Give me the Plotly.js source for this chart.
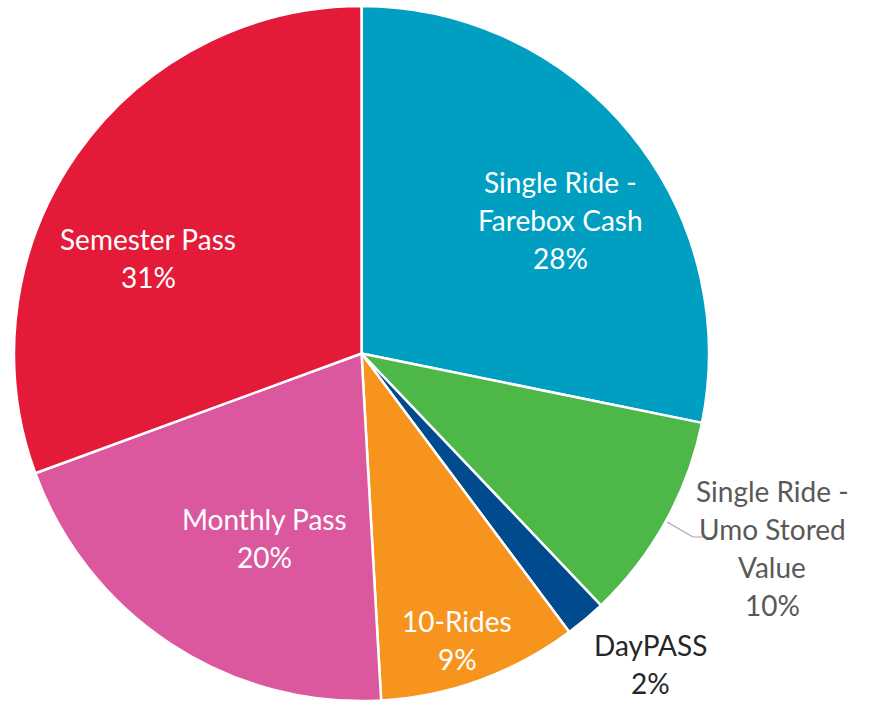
<!DOCTYPE html>
<html><head><meta charset="utf-8">
<script src="https://cdn.plot.ly/plotly-3.0.1.min.js"></script>
<style>html,body{margin:0;padding:0;background:#fff}#chart{width:871px;height:701px}</style>
</head><body><div id="chart"></div>
<script>
const labels = ["Single Ride -<br>Farebox Cash", "Single Ride -<br>Umo Stored<br>Value", "DayPASS", "10-Rides", "Monthly Pass", "Semester Pass"];
const values = [28.2, 9.7, 1.9, 9.3, 20.3, 30.6];
const colors = ["#009FC2", "#4DB748", "#004B8D", "#F7941E", "#DB589E", "#E31B39"];
const textColors = ["#FFFFFF", "#595959", "#262626", "#FFFFFF", "#FFFFFF", "#FFFFFF"];
// label block centers in pixels
const labelPos = [[560, 220], [772, 548], [650, 664], [457, 640], [264, 538], [148, 258]];

const W = 871, H = 701, LINE = 37.8;
const total = values.reduce((a, b) => a + b, 0);
const annotations = [];
labels.forEach((l, i) => {
  const lines = l.split('<br>').concat([Math.round(values[i] / total * 100) + '%']);
  const n = lines.length;
  lines.forEach((t, k) => {
    const py = labelPos[i][1] + (k - (n - 1) / 2) * LINE;
    annotations.push({
      xref: 'paper', yref: 'paper',
      x: labelPos[i][0] / W, y: 1 - py / H,
      xanchor: 'center', yanchor: 'middle',
      text: t, showarrow: false, borderpad: 0,
      font: {family: 'Lato, "Open Sans", sans-serif', size: 28, color: textColors[i]}
    });
  });
});

const trace = {
  type: 'pie',
  labels: labels.map(s => s.replace(/<br>/g, ' ')),
  values: values,
  sort: false,
  direction: 'clockwise',
  rotation: 0,
  marker: {colors: colors, line: {color: '#FFFFFF', width: 2.5}},
  textinfo: 'none',
  hoverinfo: 'label+percent',
  domain: {x: [14 / W, 709 / W], y: [0, 1 - 6 / H]}
};

const layout = {
  width: W, height: H,
  margin: {l: 0, r: 0, t: 0, b: 0},
  showlegend: false,
  paper_bgcolor: '#FFFFFF',
  annotations: annotations,
  shapes: [{
    type: 'path', xref: 'paper', yref: 'paper',
    path: `M ${667 / W} ${1 - 522 / H} L ${693 / W} ${1 - 537 / H} L ${704 / W} ${1 - 537 / H}`,
    line: {color: '#A6A6A6', width: 1.2}
  }]
};
Plotly.newPlot('chart', [trace], layout, {staticPlot: true});
</script>
</body></html>
